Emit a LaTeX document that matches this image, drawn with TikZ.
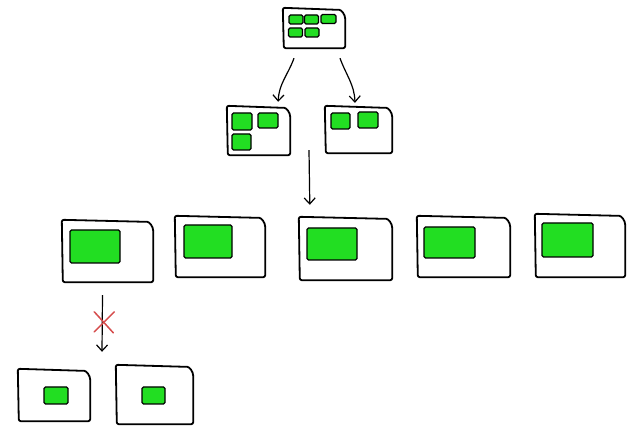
\documentclass[tikz,border=0pt]{standalone}
\usetikzlibrary{arrows.meta,calc}
\definecolor{boxgreen}{RGB}{34,222,34}
\definecolor{xred}{RGB}{214,76,76}
\tikzset{
  x=1pt,y=-1pt,
  frame/.style={inner sep=0pt,draw=none},
  sk/.style={line width=1.8pt,line join=round,line cap=round},
  gr/.style={inner sep=0pt,draw=black,line width=1.3pt,fill=boxgreen,rounded corners=1.5pt},
  arr/.style={line width=1.2pt,-{Straight Barb[length=6pt,width=11pt]}},
}
\newcommand{\skbox}[5]{%
  \node[frame,minimum width=#4,minimum height=#5] (#1) at (#2,#3) {};
  \draw[sk,rounded corners=2pt] ([xshift=1pt]#1.south west) -- ([yshift=2pt]#1.north west)
    -- ([xshift=-8pt]#1.north east) [sharp corners] to[out=0,in=90,looseness=0.9] ([yshift=-9pt]#1.north east)
    [rounded corners=2pt] -- (#1.south east) -- cycle;}
\newcommand{\gbox}[5]{\node[gr,minimum width=#4,minimum height=#5] (#1) at (#2,#3) {};}
\begin{document}
\begin{tikzpicture}
\useasboundingbox (0,0) rectangle (643,438);
\fill[white] (0,0) rectangle (643,438);
% top
\skbox{T}{314}{29}{62pt}{38pt}
\gbox{t1}{296}{19.5}{14pt}{9pt}
\gbox{t2}{311.5}{19.5}{14pt}{9pt}
\gbox{t3}{328.5}{19}{15pt}{9pt}
\gbox{t4}{295.5}{32.5}{14pt}{9pt}
\gbox{t5}{312}{32.5}{14pt}{9pt}
% middle
\skbox{M1}{258.5}{131.5}{63pt}{47pt}
\gbox{m1}{242}{121.5}{20pt}{17pt}
\gbox{m2}{268}{120.5}{20pt}{15pt}
\gbox{m3}{241.5}{142}{19pt}{16pt}
\skbox{M2}{358.5}{130.5}{67pt}{45pt}
\gbox{m4}{340.5}{121}{19pt}{16pt}
\gbox{m5}{368}{120}{20pt}{16pt}
% row 3
\skbox{B1}{107.5}{252}{91pt}{60pt}
\gbox{b1}{95}{246.5}{50pt}{33pt}
\skbox{B2}{220}{247.5}{90pt}{59pt}
\gbox{b2}{208}{241.5}{48pt}{33pt}
\skbox{B3}{345.5}{249.5}{93pt}{61pt}
\gbox{b3}{332}{244}{50pt}{32pt}
\skbox{B4}{463.5}{247.5}{93pt}{59pt}
\gbox{b4}{449.5}{242.5}{51pt}{31pt}
\skbox{B5}{580}{246.5}{90pt}{61pt}
\gbox{b5}{567.5}{240}{51pt}{34pt}
% bottom
\skbox{C1}{54}{396}{72pt}{50pt}
\gbox{c1}{56}{395.5}{24pt}{17pt}
\skbox{C2}{154.5}{395.5}{77pt}{57pt}
\gbox{c2}{153.5}{395.5}{23pt}{17pt}
% arrows
\draw[arr] ($(T.south)+(-20,10)$) to[out=-110,in=88] ($(M1.north east)+(-12,-6)$);
\draw[arr] ($(T.south)+(26,10)$) to[out=-70,in=92] ($(M2.north)+(-3.5,-5)$);
\draw[arr] ($(M1.south east)!0.5!(M2.south west)+(1.5,-4)$) -- ($(B3.north west)+(11,-14)$);
\draw[arr] ($(B1.south)+(-5,13)$) coordinate (xs) -- ($(C1.north east)!0.5!(C2.north west)+(-1,-17)$) coordinate (xe);
\coordinate (X) at ($(xs)!0.47!(xe)+(2,0)$);
\draw[xred,line width=1.5pt,line cap=round] ($(X)+(-10,-10)$) -- ($(X)+(9,11)$);
\draw[xred,line width=1.5pt,line cap=round] ($(X)+(-10,10)$) -- ($(X)+(10,-10)$);
\end{tikzpicture}
\end{document}
